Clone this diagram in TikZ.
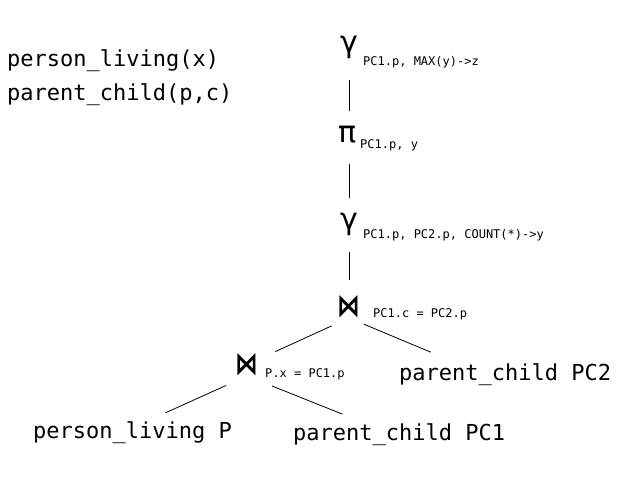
\documentclass[tikz,border=0pt]{standalone}
\usepackage{fontspec}
\usepackage{graphicx}
\newfontfamily\relfont{DejaVu Sans Mono}
\newfontfamily\opfont{DejaVu Sans}
\usetikzlibrary{calc}
\tikzset{
		relation/.style={
			anchor=base west,
			inner sep=0pt,
			font=\relfont\fontsize{22}{22}\selectfont},
		operator/.style={
			inner sep=0pt,
			font=\opfont\fontsize{30}{30}\selectfont},
		joinop/.style={
			inner sep=0pt,
			font=\opfont\bfseries\fontsize{24}{24}\selectfont},
		subtext/.style={
			anchor=base west,
			inner sep=0pt,
			font=\relfont\fontsize{12}{12}\selectfont},
		edge/.style={draw, line width=0.8pt},
	}
\newcommand{\joinsym}{\scalebox{0.95}[1.3]{⋈}}
\begin{document}
\begin{tikzpicture}[x=1pt, y=-1pt]
			\useasboundingbox (0,0) rectangle (637,491);
			% schema
			\node[relation] (schemaP) at (7,66) {person\_living(x)};
			\node[relation] (schemaC) at (7,100) {parent\_child(p,c)};
			
			% operators
			\node[operator] (gamtop) at (349,47) {γ};
			\node[subtext] (gamtopsub) at (363,65) {PC1.p, MAX(y)->z};
			\node[operator] (proj) at (347.5,135) {π};
			\node[subtext] (projsub) at (360,148) {PC1.p, y};
			\node[operator] (gamlow) at (349,224.5) {γ};
			\node[subtext] (gamlowsub) at (363,238) {PC1.p, PC2.p, COUNT(*)->y};
			\node[joinop] (joinA) at (349,306.5) {\joinsym};
			\node[subtext] (joinAsub) at (373,317) {PC1.c = PC2.p};
			\node[joinop] (joinB) at (247,364.5) {\joinsym};
			\node[subtext] (joinBsub) at (265,377) {P.x = PC1.p};
			
			% leaves
			\node[relation] (PC2) at (399,380) {parent\_child PC2};
			\node[relation] (P) at (33,438) {person\_living P};
			\node[relation] (PC1) at (293,440) {parent\_child PC1};
			
			\draw[edge, shorten <=21pt, shorten >=15pt] (gamtop.south) -- (gamtop.south |- proj.north);
			\draw[edge, shorten <=20pt, shorten >=15pt] (gamtop.south |- proj.south) -- (gamtop.south |- gamlow.north);
			\draw[edge, shorten <=16pt, shorten >=15pt] (gamlow.south) -- (joinA.north);
			\draw[edge, shorten <=19pt, shorten >=31pt] (joinA.south) -- (joinB.center);
			\draw[edge, shorten <=16pt, shorten >=28pt] (joinA.south) -- (PC2.167);
			\draw[edge, shorten <=23pt, shorten >=20pt] (joinB.south) -- (P.37);
			\draw[edge, shorten <=27pt, shorten >=24pt] (joinB.south) -- (PC1.162);
\end{tikzpicture}
\end{document}
